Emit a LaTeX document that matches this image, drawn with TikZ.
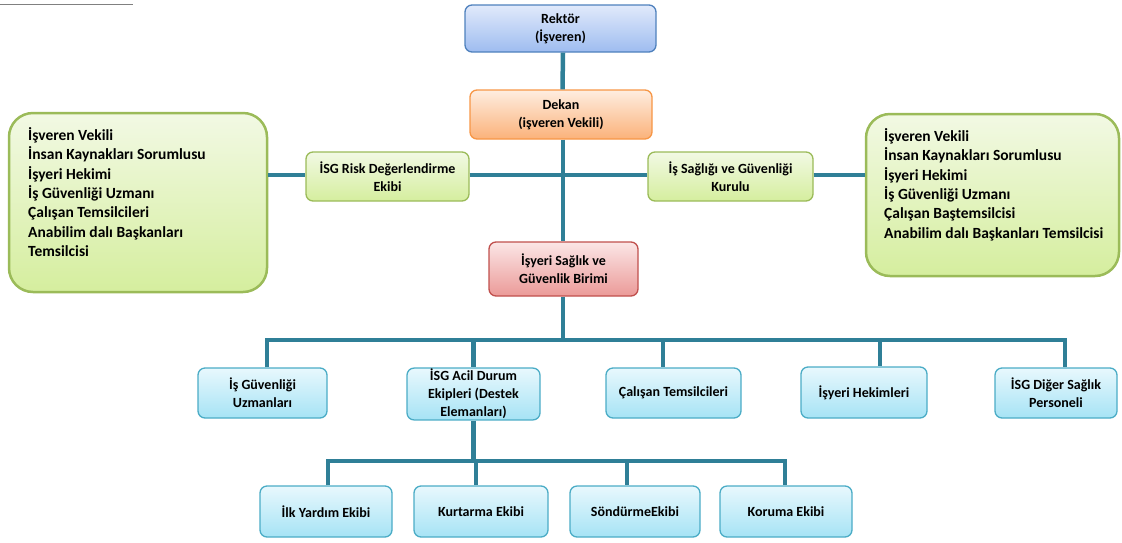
\documentclass[tikz,border=0pt]{standalone}
\usepackage{fontspec}
\setmainfont{Carlito}
\definecolor{conn}{HTML}{2F7F97}
\definecolor{bluetop}{HTML}{E1EAFB}
\definecolor{bluebot}{HTML}{9EBCF0}
\definecolor{blueln}{HTML}{4F81BD}
\definecolor{ortop}{HTML}{FEEDE0}
\definecolor{orbot}{HTML}{FBB27A}
\definecolor{orln}{HTML}{F79646}
\definecolor{grtop}{HTML}{F2F9E4}
\definecolor{grbot}{HTML}{D5EE9E}
\definecolor{grln}{HTML}{9BBB59}
\definecolor{rdtop}{HTML}{FBE6E6}
\definecolor{rdbot}{HTML}{EB9A98}
\definecolor{rdln}{HTML}{C0504D}
\definecolor{cytop}{HTML}{E8F8FD}
\definecolor{cybot}{HTML}{A6E3F5}
\definecolor{cyln}{HTML}{4BACC6}
\tikzset{
  box/.style={rounded corners=7pt, line width=1.3pt, align=center, inner sep=1pt,
    font=\fontsize{14}{18}\selectfont\bfseries},
  bluebox/.style={box, draw=blueln, top color=bluetop, bottom color=bluebot},
  orbox/.style={box, draw=orln, top color=ortop, bottom color=orbot},
  grbox/.style={box, draw=grln, top color=grtop, bottom color=grbot},
  rdbox/.style={box, draw=rdln, top color=rdtop, bottom color=rdbot},
  cybox/.style={box, draw=cyln, top color=cytop, bottom color=cybot},
  bigbox/.style={rounded corners=24pt, line width=2.5pt, draw=grln, top color=grtop, bottom color=grbot},
  bigtext/.style={align=left, inner sep=0pt, anchor=north west, font=\fontsize{15.5}{19.3}\selectfont\bfseries},
  link/.style={draw=conn, line width=4.5pt}
}
\begin{document}
\begin{tikzpicture}[x=1pt,y=-1pt]
\useasboundingbox (0,0) rectangle (1122,542);
\draw[gray, line width=0.8pt] (0,4) -- (133,4);

% nodes
\node[bluebox, minimum width=191pt, minimum height=47pt] (rektor) at (560.5,28.5) {Rektör\\(İşveren)};
\node[orbox, minimum width=182pt, minimum height=49pt] (dekan) at (561,114.5) {Dekan\\(işveren Vekili)};
\node[grbox, minimum width=163pt, minimum height=49pt] (risk) at (387.5,176.5) {İSG Risk Değerlendirme\\Ekibi};
\node[grbox, minimum width=165pt, minimum height=49pt] (kurul) at (730.5,176.5) {İş Sağlığı ve Güvenliği\\Kurulu};
\node[bigbox, minimum width=258pt, minimum height=179pt] (leftbig) at (138,202.5) {};
\node[bigtext] (lefttext) at (28,127.5) {İşveren Vekili\\İnsan Kaynakları Sorumlusu\\İşyeri Hekimi\\İş Güvenliği Uzmanı\\Çalışan Temsilcileri\\Anabilim dalı Başkanları\\Temsilcisi};
\node[bigbox, minimum width=253pt, minimum height=162pt] (rightbig) at (992.5,195) {};
\node[bigtext] (righttext) at (884,128.5) {İşveren Vekili\\İnsan Kaynakları Sorumlusu\\İşyeri Hekimi\\İş Güvenliği Uzmanı\\Çalışan Baştemsilcisi\\Anabilim dalı Başkanları Temsilcisi};
\node[rdbox, minimum width=149pt, minimum height=54pt] (birim) at (563.5,269) {İşyeri Sağlık ve\\Güvenlik Birimi};

\node[cybox, minimum width=129pt, minimum height=50pt] (uzman) at (262.5,393) {İş Güvenliği\\Uzmanları};
\node[cybox, minimum width=133pt, minimum height=48pt] (acil) at (473.5,394) {İSG Acil Durum\\Ekipleri (Destek\\Elemanları)};
\node[cybox, minimum width=135pt, minimum height=50pt] (calisan) at (673.5,393) {Çalışan Temsilcileri};
\node[cybox, minimum width=126pt, minimum height=51pt] (hekim) at (864,392.5) {İşyeri Hekimleri};
\node[cybox, minimum width=122pt, minimum height=50pt] (diger) at (1056,393) {İSG Diğer Sağlık\\Personeli};

\node[cybox, minimum width=132pt, minimum height=51pt] (ilk) at (326,511.5) {İlk Yardım Ekibi};
\node[cybox, minimum width=134pt, minimum height=51pt] (kurt) at (481,511.5) {Kurtarma Ekibi};
\node[cybox, minimum width=130pt, minimum height=51pt] (sond) at (635,511.5) {SöndürmeEkibi};
\node[cybox, minimum width=132pt, minimum height=51pt] (koruma) at (786,511.5) {Koruma Ekibi};

% connectors
\coordinate (bar1) at (563,340);
\coordinate (bar2) at (473,461);
\path[link] ([xshift=2.5pt]rektor.south) -- ([xshift=1.5pt]dekan.north);
\path[link] ([xshift=2pt]dekan.south) -- ([xshift=-0.5pt]birim.north);
\path[link] ([yshift=1.5pt]leftbig.east |- risk.west) -- ([yshift=1.5pt]risk.west);
\path[link] ([yshift=1.5pt]risk.east) -- ([yshift=1.5pt]kurul.west);
\path[link] ([yshift=1.5pt]kurul.east) -- ([yshift=1.5pt]kurul.east -| rightbig.west);
\path[link] ([xshift=-0.5pt]birim.south) -- ([xshift=-0.5pt]birim.south |- bar1);
\path[link] ([xshift=4.5pt]uzman.north) |- (bar1) -| ([xshift=9pt]diger.north);
\path[link] (bar1 -| acil.north) -- (acil.north);
\path[link] (bar1 -| calisan.north) ++(-10.5,0) -- ([xshift=-10.5pt]calisan.north);
\path[link] (bar1 -| hekim.north) ++(16,0) -- ([xshift=16pt]hekim.north);
\path[link] (acil.south) -- (acil.south |- bar2);
\path[link] ([xshift=2pt]ilk.north) |- (bar2) -| ([xshift=-1pt]koruma.north);
\path[link] (bar2 -| kurt.north) ++(-5,0) -- ([xshift=-5pt]kurt.north);
\path[link] (bar2 -| sond.north) ++(-8,0) -- ([xshift=-8pt]sond.north);
\end{tikzpicture}
\end{document}
